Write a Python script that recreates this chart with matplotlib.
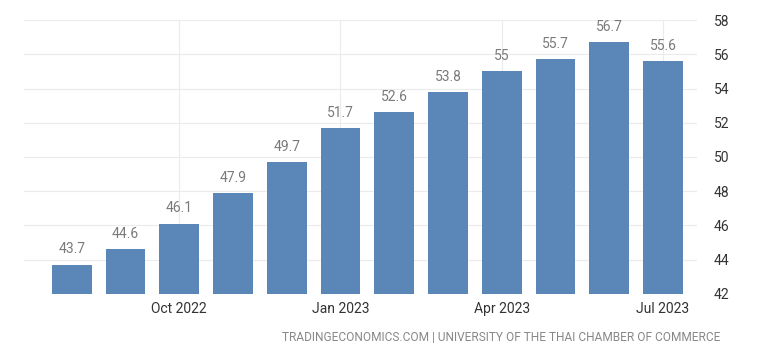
import numpy as np
import matplotlib.pyplot as plt

plt.rcParams['font.family'] = ['Roboto', 'DejaVu Sans']

#data
months = ['Aug 2022', 'Sep 2022', 'Oct 2022', 'Nov 2022', 'Dec 2022', 'Jan 2023',
          'Feb 2023', 'Mar 2023', 'Apr 2023', 'May 2023', 'Jun 2023', 'Jul 2023']
values = [43.7, 44.6, 46.1, 47.9, 49.7, 51.7, 52.6, 53.8, 55, 55.7, 56.7, 55.6]
value_labels = ['43.7', '44.6', '46.1', '47.9', '49.7', '51.7', '52.6', '53.8', '55', '55.7', '56.7', '55.6']
xtick_idx = [2, 5, 8, 11]
xtick_labels = ['Oct 2022', 'Jan 2023', 'Apr 2023', 'Jul 2023']
yticks = [42, 44, 46, 48, 50, 52, 54, 56, 58]

bar_color = '#5a87b8'

f = plt.figure(figsize=(7.68, 3.58), dpi=100)
ax = f.add_axes([0.031, 0.179, 0.877, 0.765])

x = np.arange(len(values))
bars = ax.bar(x, values, width=0.74, color=bar_color, zorder=2)

#value labels above bars
for xi, v, lab in zip(x, values, value_labels):
    ax.annotate(lab, (xi, v), xytext=(0, 6), textcoords='offset points',
                ha='center', va='bottom', fontsize=10, color='#7a7a7a')

ax.set_xlim(-0.89, 11.64)
ax.set_ylim(42, 58)
ax.set_xticks(xtick_idx)
ax.set_xticklabels(xtick_labels)
ax.set_yticks(yticks)
ax.yaxis.tick_right()
ax.tick_params(axis='both', length=0, labelsize=10, colors='#333333')
ax.tick_params(axis='y', pad=12)
ax.tick_params(axis='x', pad=6)
for s in ax.spines.values():
    s.set_visible(False)
ax.grid(color='#ebebeb', linewidth=0.8)
ax.set_axisbelow(True)

f.text(0.938, 0.04, 'TRADINGECONOMICS.COM | UNIVERSITY OF THE THAI CHAMBER OF COMMERCE',
       ha='right', va='bottom', fontsize=8.6, color='#888888')

f.savefig('out.png', dpi=100)
